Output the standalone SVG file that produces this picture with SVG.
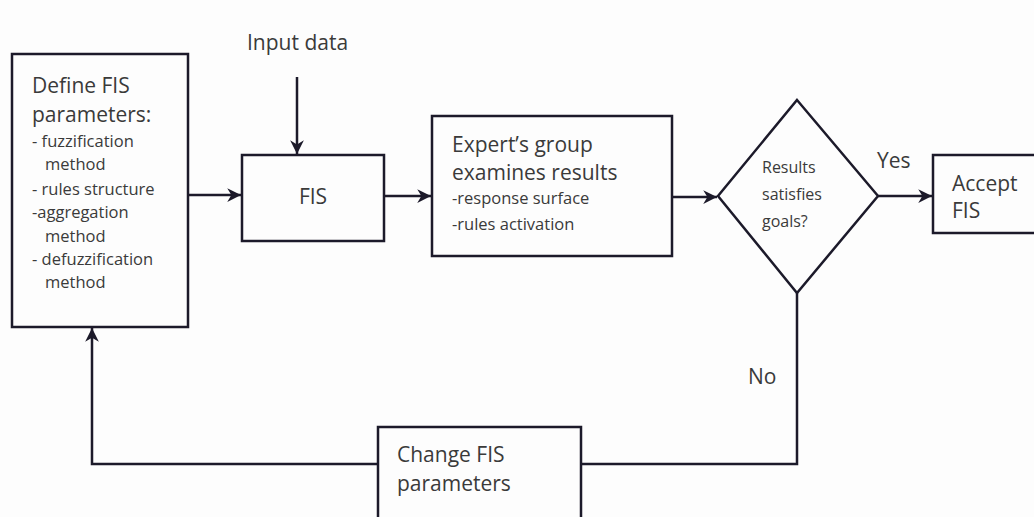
<svg xmlns="http://www.w3.org/2000/svg" width="1034" height="517" viewBox="0 0 1034 517">
<defs>
<marker id="arr" viewBox="0 0 10 10" refX="10" refY="5" markerWidth="5.5" markerHeight="5.5" orient="auto" markerUnits="strokeWidth">
<path d="M0,0 L10,5 L0,10 L3,5 Z" fill="#1c1a2a"/>
</marker>
<style>
.box{fill:#fdfdfd;stroke:#1c1a2a;stroke-width:2.5}
.ln{fill:none;stroke:#1c1a2a;stroke-width:2.5}
.t{font-family:"Open Sans","Noto Sans",sans-serif;fill:#3a3a3a}
.big{font-size:21px}
.sm{font-size:16.5px}
.dm{font-size:16px}
</style>
</defs>
<rect width="1034" height="517" fill="#fdfdfd"/>
<g id="connectors">
<line class="ln" x1="297" y1="77" x2="297" y2="154" marker-end="url(#arr)"/>
<line class="ln" x1="188" y1="195" x2="241" y2="195" marker-end="url(#arr)"/>
<line class="ln" x1="384" y1="196" x2="431" y2="196" marker-end="url(#arr)"/>
<line class="ln" x1="672" y1="197" x2="717" y2="197" marker-end="url(#arr)"/>
<line class="ln" x1="878" y1="196" x2="932" y2="196" marker-end="url(#arr)"/>
<polyline class="ln" points="797,293 797,464 581,464"/>
<polyline class="ln" points="377,464 92,464 92,328" marker-end="url(#arr)"/>
<text class="t big" x="877" y="168">Yes</text>
<text class="t big" x="748" y="384">No</text>
</g>
<g id="input">
<text class="t big" x="247" y="50">Input data</text>
</g>
<g id="define">
<rect class="box" x="12" y="54" width="176" height="273"/>
<text class="t big" x="32" y="93">Define FIS</text>
<text class="t big" x="32" y="122">parameters:</text>
<text class="t sm" x="32" y="147">- fuzzification</text>
<text class="t sm" x="45" y="170">method</text>
<text class="t sm" x="32" y="195">- rules structure</text>
<text class="t sm" x="32" y="218">-aggregation</text>
<text class="t sm" x="45" y="242">method</text>
<text class="t sm" x="32" y="265">- defuzzification</text>
<text class="t sm" x="45" y="288">method</text>
</g>
<g id="fis">
<rect class="box" x="242" y="155" width="142" height="86"/>
<text class="t big" x="313" y="204" text-anchor="middle">FIS</text>
</g>
<g id="expert">
<rect class="box" x="432" y="116" width="240" height="140"/>
<text class="t big" x="452" y="152">Expert’s group</text>
<text class="t big" x="452" y="180">examines results</text>
<text class="t sm" x="452" y="204">-response surface</text>
<text class="t sm" x="452" y="230">-rules activation</text>
</g>
<g id="decision">
<polygon class="box" points="797,100 878,196 797,293 718,196"/>
<text class="t dm" x="762" y="173">Results</text>
<text class="t dm" x="762" y="200">satisfies</text>
<text class="t dm" x="762" y="227">goals?</text>
</g>
<g id="accept">
<rect class="box" x="933" y="155" width="110" height="78"/>
<text class="t big" x="952" y="191">Accept</text>
<text class="t big" x="952" y="218">FIS</text>
</g>
<g id="change">
<rect class="box" x="378" y="427" width="203" height="100"/>
<text class="t big" x="397" y="462">Change FIS</text>
<text class="t big" x="397" y="491">parameters</text>
</g>
</svg>
